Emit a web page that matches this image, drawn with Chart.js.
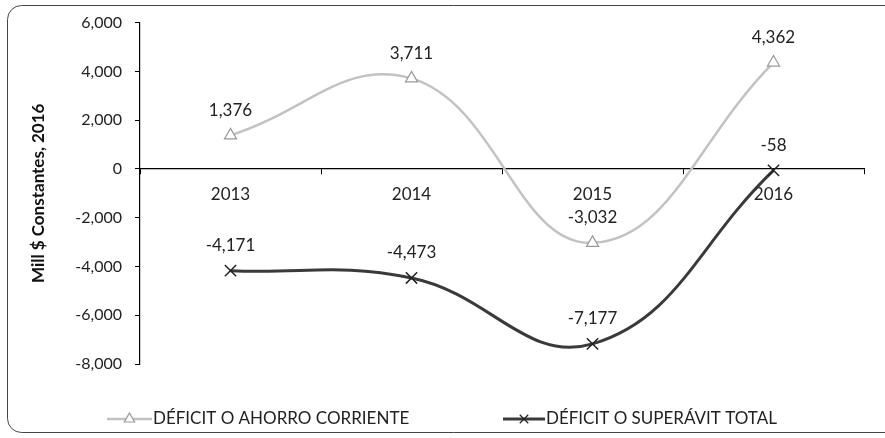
<!DOCTYPE html>
<html>
<head>
<meta charset="utf-8">
<script src="https://cdn.jsdelivr.net/npm/chart.js@4"></script>
<style>
  html,body{margin:0;padding:0;background:#fff;}
  #wrap{width:885px;height:438px;position:relative;}
</style>
</head>
<body>
<div id="wrap"><canvas id="chart" width="885" height="438"></canvas></div>
<script>
// values
const years = ["2013", "2014", "2015", "2016"];
const ahorroCorriente = [1376, 3711, -3032, 4362];
const superavitTotal = [-4171, -4473, -7177, -58];
const seriesNames = ["DÉFICIT O AHORRO CORRIENTE", "DÉFICIT O SUPERÁVIT TOTAL"];
const yTicks = [-8000, -6000, -4000, -2000, 0, 2000, 4000, 6000];

const FONT = "Lato";
const fmt = v => v.toLocaleString("en-US");

// rounded frame, partly cut off on the right like the scan
const framePlugin = {
  id: "frame",
  beforeDraw(chart){
    const ctx = chart.ctx;
    ctx.save();
    ctx.fillStyle = "#fff";
    ctx.fillRect(0, 0, chart.width, chart.height);
    ctx.strokeStyle = "#444";
    ctx.lineWidth = 1;
    ctx.beginPath();
    ctx.roundRect(7.5, 5.5, 920, 427, 14);
    ctx.stroke();
    ctx.restore();
  }
};

// value labels above each point
const labelPlugin = {
  id: "valueLabels",
  afterDatasetsDraw(chart){
    const ctx = chart.ctx;
    ctx.save();
    ctx.font = "17px " + FONT;
    ctx.fillStyle = "#222";
    ctx.textAlign = "center";
    ctx.textBaseline = "middle";
    chart.data.datasets.forEach((ds, i) => {
      chart.getDatasetMeta(i).data.forEach((pt, j) => {
        ctx.fillText(fmt(ds.data[j]), pt.x, pt.y - 25);
      });
    });
    ctx.restore();
  }
};

// legend: line sample with marker, then name (narrow like the original)
const legendPlugin = {
  id: "lineLegend",
  afterDraw(chart){
    const ctx = chart.ctx;
    const xs = [107, 503];
    const lens = [45, 42];
    const widths = [257, 236];
    const y = 419;
    ctx.save();
    chart.data.datasets.forEach((ds, i) => {
      const x = xs[i];
      ctx.strokeStyle = ds.borderColor;
      ctx.lineWidth = ds.borderWidth;
      ctx.beginPath();
      ctx.moveTo(x, y); ctx.lineTo(x + lens[i], y);
      ctx.stroke();
      ctx.fillStyle = ds.pointBackgroundColor;
      ctx.strokeStyle = ds.pointBorderColor;
      ctx.lineWidth = 1.2;
      Chart.helpers.drawPoint(ctx, {pointStyle: ds.pointStyle, radius: 6, borderWidth: 1.2}, x + lens[i] / 2, y);
      ctx.fillStyle = "#222";
      ctx.font = "17px " + FONT;
      ctx.textBaseline = "middle";
      ctx.fillText(ds.label, x + lens[i] + 1, y, widths[i]);
    });
    ctx.restore();
  }
};

new Chart(document.getElementById("chart"), {
  type: "line",
  data: {
    labels: years,
    datasets: [
      {
        label: seriesNames[0],
        data: ahorroCorriente,
        borderColor: "#c2c2c2",
        borderWidth: 2.5,
        tension: 0.42,
        pointStyle: "triangle",
        pointRadius: 7,
        pointBorderWidth: 1.2,
        pointBackgroundColor: "#fff",
        pointBorderColor: "#999"
      },
      {
        label: seriesNames[1],
        data: superavitTotal,
        borderColor: "#3a3a3a",
        borderWidth: 3,
        tension: 0.42,
        pointStyle: "crossRot",
        pointRadius: 8,
        pointBorderWidth: 1.5,
        pointBackgroundColor: "#fff",
        pointBorderColor: "#222"
      }
    ]
  },
  options: {
    responsive: false,
    animation: false,
    layout: { padding: { top: 22, bottom: 74, right: 21, left: 0 } },
    plugins: { legend: { display: false }, tooltip: { enabled: false } },
    scales: {
      x: {
        position: { y: 0 },
        offset: true,
        grid: { display: true, drawOnChartArea: false, drawTicks: true, tickLength: 5, color: "#000", offset: true },
        border: { display: true, color: "#000", width: 1.2 },
        ticks: { font: { family: FONT, size: 17 }, color: "#222", padding: 10 }
      },
      y: {
        min: -8000,
        max: 6000,
        afterFit: s => { s.width = 140; },
        afterBuildTicks: s => { s.ticks = yTicks.map(v => ({ value: v })); },
        grid: { display: true, drawOnChartArea: false, drawTicks: true, tickLength: 5, color: "#000" },
        border: { display: true, color: "#000", width: 1.2 },
        ticks: { font: { family: FONT, size: 16 }, color: "#222", padding: 13, callback: v => fmt(v) },
        title: {
          display: true,
          text: "Mill $ Constantes, 2016",
          font: { family: FONT, size: 17, weight: "bold" },
          color: "#111",
          padding: { top: 28 }
        }
      }
    }
  },
  plugins: [framePlugin, labelPlugin, legendPlugin]
});
</script>
</body>
</html>
